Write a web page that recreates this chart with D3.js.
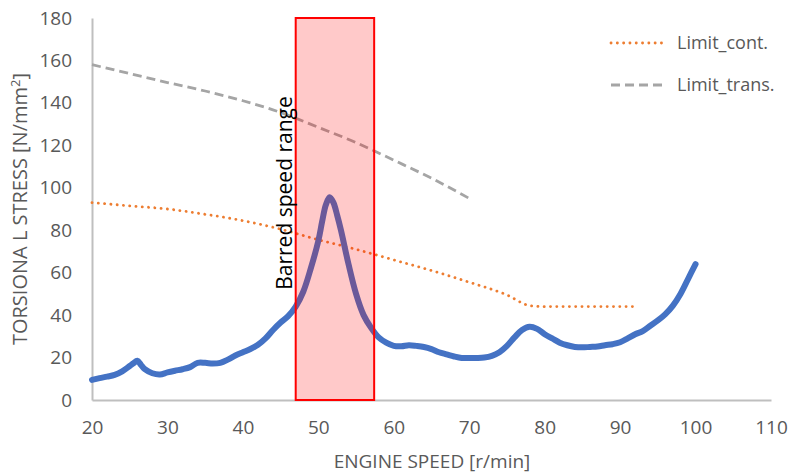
<!DOCTYPE html>
<html>
<head>
<meta charset="utf-8">
<script src="https://cdn.jsdelivr.net/npm/d3@7"></script>
<style>
  html, body { margin: 0; padding: 0; background: #fff; }
  svg { display: block; font-family: "Open Sans", "Noto Sans", sans-serif; }
</style>
</head>
<body>
<svg id="chart" width="792" height="475"></svg>
<script>
// Measured torsional stress along the engine speed sweep
const speed = [20,21,22,23,24,25,25.5,26,26.5,27,28,29,30,31,32,33,34,35,36,37,38,39,40,41,42,43,44,45,46,47,48,49,50,50.5,51,51.5,52,52.5,53,54,55,56,57,58,59,60,61,62,63,64,65,66,67,68,69,70,71,72,73,74,75,76,77,78,79,80,81,82,83,84,85,86,87,88,89,90,91,92,93,94,95,96,97,98,99,100];
const stress = [9.5,10.3,11,11.8,13.5,16,17.3,18.5,16.5,14.5,12.6,12,13,13.8,14.5,15.5,17.5,17.5,17.2,17.5,19,21,22.5,24,26,29,33,36.5,39.5,44,51,62,75,84,92,95.5,93,87,80,64,50,40,34,29.5,27,25.5,25.3,25.8,25.5,25,24,22.5,21.5,20.5,19.8,19.8,19.8,20,20.8,22.5,25.5,29.5,33,34.5,33.5,31,29,27,25.8,25,24.8,25,25.2,25.8,26.3,27.2,29,31,32.5,35,37.5,40.5,44.5,50,57,64];

// Continuous operation limit
const contSpeed = [20,25,30,35,40,45,50,55,60,65,70,75,78,80,85,92];
const contLimit = [93,91.5,90,87.5,84.5,80.5,75.5,71,66,61,55.5,49.5,44.5,44,44,44];

// Transient operation limit
const transSpeed = [20,25,30,35,40,45,50,55,60,65,70];
const transLimit = [158,153.8,149.6,145.6,141,135.5,128.5,121.3,113,104.5,95];

// Barred speed range
const barredRange = [47, 57.4];

const xTicks = [20,30,40,50,60,70,80,90,100,110];
const yTicks = [0,20,40,60,80,100,120,140,160,180];

const legendItems = [
  { name: "Limit_cont.", color: "#ED7D31", dash: "0.1 6.2", width: 2.8 },
  { name: "Limit_trans.", color: "#A5A5A5", dash: "9 5", width: 2.8 }
];

const svg = d3.select("#chart");
const m = { left: 92, right: 771, top: 18, bottom: 400 };

const x = d3.scaleLinear().domain([20, 110]).range([m.left, m.right]);
const y = d3.scaleLinear().domain([0, 180]).range([m.bottom, m.top]);

const textColor = "#595959";
const axisColor = "#BFBFBF";

// Axes
const xAxis = svg.append("g")
  .attr("transform", `translate(0,${m.bottom})`)
  .call(d3.axisBottom(x).tickValues(xTicks).tickSize(0).tickPadding(21).tickFormat(d3.format("d")));
const yAxis = svg.append("g")
  .attr("transform", `translate(${m.left},0)`)
  .call(d3.axisLeft(y).tickValues(yTicks).tickSize(0).tickPadding(20).tickFormat(d3.format("d")));
[xAxis, yAxis].forEach(g => {
  g.select(".domain").attr("stroke", axisColor).attr("stroke-width", 2);
  g.selectAll("text").attr("fill", textColor).style("font-size", "19px")
    .style("font-family", "\"Open Sans\", sans-serif");
});

// Axis titles
svg.append("text")
  .attr("x", 432).attr("y", 468)
  .attr("text-anchor", "middle").attr("fill", textColor)
  .style("font-size", "19px")
  .text("ENGINE SPEED [r/min]");

const yt = svg.append("text")
  .attr("transform", `translate(27,209) rotate(-90)`)
  .attr("text-anchor", "middle").attr("fill", textColor)
  .style("font-size", "20px");
yt.append("tspan").text("TORSIONA L STRESS [N/mm");
yt.append("tspan").attr("dy", -7).style("font-size", "13px").text("2");
yt.append("tspan").attr("dy", 7).text("]");

const line = d3.line().x(d => x(d[0])).y(d => y(d[1]));

// Limit lines
svg.append("path")
  .datum(d3.zip(contSpeed, contLimit))
  .attr("d", line.curve(d3.curveMonotoneX))
  .attr("fill", "none").attr("stroke", legendItems[0].color)
  .attr("stroke-width", legendItems[0].width)
  .attr("stroke-linecap", "round")
  .attr("stroke-dasharray", legendItems[0].dash);

svg.append("path")
  .datum(d3.zip(transSpeed, transLimit))
  .attr("d", line.curve(d3.curveMonotoneX))
  .attr("fill", "none").attr("stroke", legendItems[1].color)
  .attr("stroke-width", legendItems[1].width)
  .attr("stroke-dasharray", legendItems[1].dash);

// Stress curve
svg.append("path")
  .datum(d3.zip(speed, stress))
  .attr("d", line.curve(d3.curveCatmullRom.alpha(0.5)))
  .attr("fill", "none").attr("stroke", "#4472C4")
  .attr("stroke-width", 6)
  .attr("stroke-linecap", "round")
  .attr("stroke-linejoin", "round");

// Barred speed range box, semi-transparent over the curves
svg.append("rect")
  .attr("x", x(barredRange[0])).attr("y", y(180))
  .attr("width", x(barredRange[1]) - x(barredRange[0]))
  .attr("height", y(0) - y(180))
  .attr("fill", "rgba(255,0,0,0.21)")
  .attr("stroke", "#FF0000").attr("stroke-width", 2);

svg.append("text")
  .attr("transform", `translate(292,193) rotate(-90)`)
  .attr("text-anchor", "middle").attr("fill", "#000")
  .style("font-size", "21px")
  .text("Barred speed range");

// Legend
const lg = svg.append("g");
legendItems.forEach((d, i) => {
  const ly = 43 + i * 42;
  lg.append("line")
    .attr("x1", 611).attr("x2", 667).attr("y1", ly).attr("y2", ly)
    .attr("stroke", d.color).attr("stroke-width", d.width)
    .attr("stroke-linecap", i === 0 ? "round" : "butt")
    .attr("stroke-dasharray", d.dash);
  lg.append("text")
    .attr("x", 677).attr("y", ly + 6)
    .attr("fill", textColor).style("font-size", "18px")
    .text(d.name);
});
</script>
</body>
</html>
